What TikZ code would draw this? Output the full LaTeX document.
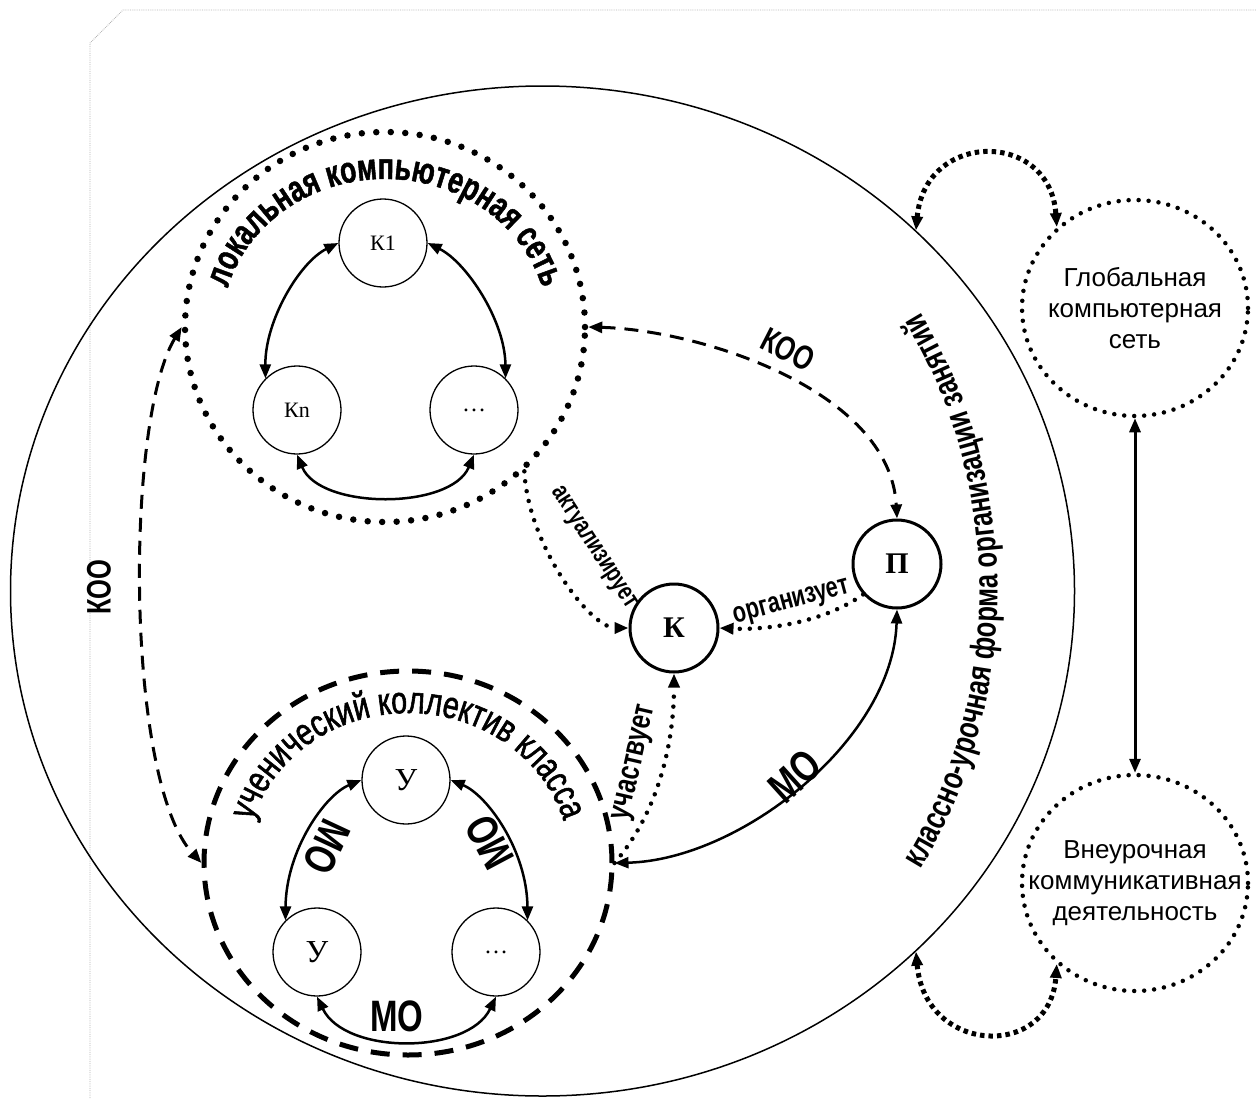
\documentclass[tikz,border=0pt]{standalone}
\usepackage{fontspec}
\setmainfont{Liberation Serif}
\setsansfont{Liberation Sans}
\newfontfamily\artfont[FakeStretch=0.75]{Liberation Sans}
\newfontfamily\heavyfont[FakeStretch=0.72, FakeBold=1.2]{Liberation Sans Bold}
\newfontfamily\klassface[FakeStretch=0.75, FakeBold=1.5]{Liberation Sans}
\usetikzlibrary{arrows.meta,shapes.geometric,decorations.text}

\newcommand\lanfont{\heavyfont\fontsize{37}{40}\selectfont}
\newcommand\klassfont{\klassface\fontsize{38}{40}\selectfont}
\newcommand\formfont{\artfont\bfseries\fontsize{34}{36}\selectfont}

\begin{document}
\begin{tikzpicture}[x=1pt, y=-1pt, >={Triangle[length=14pt, width=11pt]},
    comp/.style={draw, circle, line width=1.3pt, minimum size=88, inner sep=0pt, font=\fontsize{22}{24}\selectfont},
    pupil/.style={comp, font=\fontsize{32}{32}\selectfont},
    actor/.style={draw, circle, line width=3pt, minimum size=88, inner sep=0pt, font=\fontsize{30}{30}\selectfont\bfseries},
    bigdots/.style={line width=6.5pt, dash pattern=on 0pt off 14.5pt, line cap=round},
    smalldots/.style={line width=4.5pt, dash pattern=on 0pt off 10pt, line cap=round},
    squaredots/.style={line width=5pt, dash pattern=on 4.5pt off 4pt},
    bigdash/.style={line width=5pt, dash pattern=on 19pt off 13pt},
    koodash/.style={line width=3pt, dash pattern=on 14pt off 9pt},
    link/.style={line width=2.5pt},
    molabel/.style={inner sep=0pt, font={\artfont\bfseries\fontsize{44}{44}\selectfont}},
    koolabel/.style={inner sep=0pt, font={\artfont\bfseries\fontsize{34}{34}\selectfont}},
    verb/.style={inner sep=0pt, font={\artfont\bfseries\fontsize{28}{28}\selectfont}},
    outer/.style={draw, ellipse, inner sep=0pt, smalldots},
    outertext/.style={align=center, font={\sffamily\fontsize{26}{31}\selectfont}}]

    \useasboundingbox (0,0) rectangle (1256,1098);

    % рамка листа
    \draw[gray!60, densely dotted, line width=0.8pt] (90,1098) -- (90,43) -- (123,10) -- (1256,10);

    % классно-урочная форма
    \node[draw, ellipse, line width=1.5pt, minimum width=1064, minimum height=1010, inner sep=0pt] (school) at (542.5,591) {};
    \path[decorate, decoration={text along path, text align=center,
        text={|\formfont|классно-урочная форма организации занятий}}]
        (school.center) ++(42:455 and 500) arc[start angle=42, end angle=-42, x radius=455, y radius=500];

    % локальная сеть
    \node[draw, ellipse, bigdots, minimum width=400, minimum height=390, inner sep=0pt] (lan) at (385,327) {};
    \path[decorate, decoration={text along path, text align=center,
        text={|\lanfont|локальная компьютерная сеть}}]
        (lan.center) ++(-190:163 and 148) arc[start angle=-190, end angle=10, x radius=163, y radius=148];
    \node[comp] (k1) at (383,243) {К1};
    \node[comp] (kn) at (297,410) {Кn};
    \node[comp, font=\fontsize{24}{24}\selectfont] (kd) at (474,410) {…};
    \draw[<->, link] (k1.west) .. controls (300,262) and (265,320) .. (kn.135);
    \draw[<->, link] (k1.east) .. controls (466,262) and (505,320) .. (kd.45);
    \draw[<->, link] (kn.south) .. controls (320,510) and (451,510) .. (kd.south);

    % ученический коллектив
    \node[draw, ellipse, bigdash, minimum width=408, minimum height=384, inner sep=0pt] (klass) at (408,863) {};
    \path[decorate, decoration={text along path, text align=center,
        text={|\klassfont|ученический коллектив класса}}]
        (klass.center) ++(-190:162 and 150) arc[start angle=-190, end angle=10, x radius=162, y radius=150];
    \node[pupil] (u1) at (406,780) {У};
    \node[pupil] (u2) at (317,952) {У};
    \node[comp, font=\fontsize{24}{24}\selectfont] (ud) at (496,952) {…};
    \draw[<->, link] (u1.west) .. controls (325,795) and (286,850) .. (u2.135);
    \draw[<->, link] (u1.east) .. controls (487,795) and (527,850) .. (ud.45);
    \draw[<->, link] (u2.south) .. controls (345,1055) and (468,1055) .. (ud.south);
    \node[molabel, rotate=-115] (mo1) at (327,847) {МО};
    \node[molabel, rotate=118] (mo2) at (490,842) {МО};
    \node[molabel] (mo3) at (397,1016) {МО};

    % компьютер и педагог
    \node[actor] (kk) at (674,628) {К};
    \node[actor] (pp) at (897,564) {П};

    \draw[<->, koodash] (lan.east) .. controls (700,330) and (890,390) .. (pp.north);
    \node[koolabel, rotate=-27] (koo1) at (788,350) {КОО};
    \draw[<->, koodash] (lan.west) .. controls (125,420) and (125,780) .. (klass.west);
    \node[koolabel, rotate=90] (koo2) at (99,587) {КОО};

    \draw[->, smalldots] (lan.-46) .. controls (528,545) and (590,628) .. (kk.west);
    \node[verb, font={\artfont\bfseries\fontsize{26}{26}\selectfont}, rotate=-57] (akt) at (593,548) {актуализирует};
    \draw[->, smalldots] (pp.222) .. controls (820,625) and (760,630) .. (kk.east);
    \node[verb, font={\artfont\bfseries\fontsize{29}{29}\selectfont}, rotate=15] (org) at (792,603) {организует};
    \draw[->, smalldots] (klass.east) .. controls (660,810) and (674,740) .. (kk.south);
    \node[verb, font={\artfont\bfseries\fontsize{32}{32}\selectfont}, rotate=77] (uch) at (636,763) {участвует};
    \draw[<->, link] (pp.south) .. controls (893,740) and (740,860) .. (klass.east);
    \node[molabel, rotate=42] (mo4) at (795,776) {МО};

    % внешние сферы
    \node[outer, minimum width=226, minimum height=216] (glob) at (1135,308) {};
    \node[outertext] (globtxt) at (glob.center) {Глобальная\\компьютерная\\сеть};
    \node[outer, minimum width=226, minimum height=216] (vneur) at (1135,883) {};
    \node[outertext] (vneurtxt) at (vneur.center) {Внеурочная\\коммуникативная\\деятельность};

    \draw[<->, line width=3pt] (glob.south) -- (vneur.north);
    \draw[<->, squaredots] (school.44) .. controls (925,130) and (1050,130) .. (glob.134);
    \draw[<->, squaredots] (school.-44) .. controls (925,1055) and (1050,1060) .. (vneur.226);
\end{tikzpicture}
\end{document}
